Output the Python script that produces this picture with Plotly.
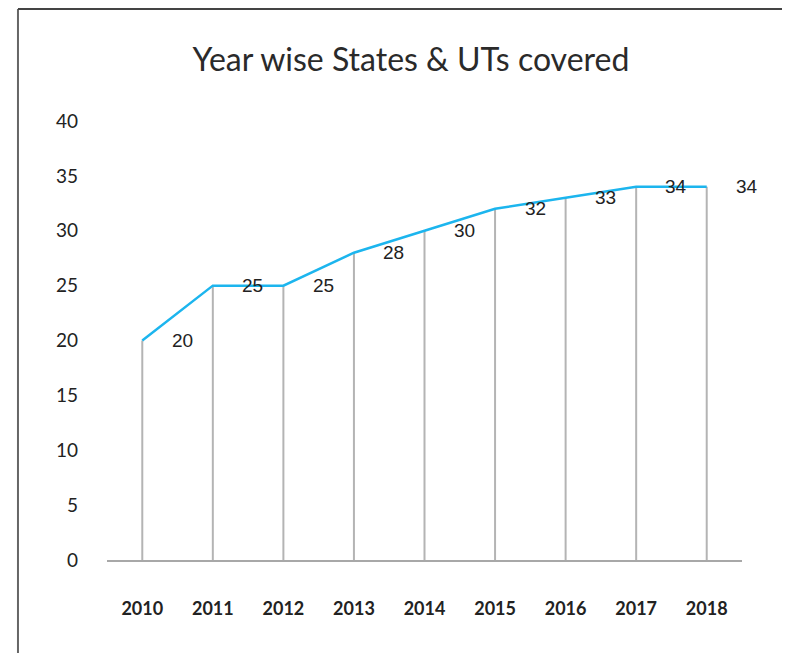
import plotly.graph_objects as go

years = [2010, 2011, 2012, 2013, 2014, 2015, 2016, 2017, 2018]
covered = [20, 25, 25, 28, 30, 32, 33, 34, 34]
y_ticks = [0, 5, 10, 15, 20, 25, 30, 35, 40]

# drop lines from the axis up to each point
drop_x, drop_y = [], []
for yr, v in zip(years, covered):
    drop_x += [yr, yr, None]
    drop_y += [0, v, None]

fig = go.Figure()
fig.add_trace(go.Scatter(
    x=drop_x, y=drop_y, mode="lines",
    line=dict(color="#b4b4b4", width=2),
    hoverinfo="skip", showlegend=False,
))
fig.add_trace(go.Scatter(
    x=years, y=covered, mode="lines",
    line=dict(color="#1cb5ee", width=2.5),
    showlegend=False,
))

for yr, v in zip(years, covered):
    fig.add_annotation(
        x=yr, y=v, text=str(v), showarrow=False, xshift=40,
        font=dict(family="Liberation Sans", size=19, color="#222"),
    )

# frame around the chart (left and top edges); page has an 8px body margin
fig.add_shape(type="line", xref="paper", yref="paper",
              x0=-0.1402, x1=-0.1402, y0=-0.23, y1=1.2551,
              line=dict(color="#666", width=2))
fig.add_shape(type="line", xref="paper", yref="paper",
              x0=-0.1402, x1=1.1, y0=1.2551, y1=1.2551,
              line=dict(color="#444", width=2))

fig.update_layout(
    width=790, height=653,
    margin=dict(l=99, r=56, t=113, b=101),
    paper_bgcolor="white", plot_bgcolor="white",
    title=dict(text="Year wise States & UTs covered", x=0.51, xanchor="center",
               y=0.920, yanchor="middle",
               font=dict(family="Lato", size=32, color="#2a2a2a")),
    font=dict(family="Lato"),
)
fig.update_xaxes(
    range=[2009.5, 2018.5], tickvals=years, ticktext=[str(y) for y in years],
    showgrid=False, showline=True, linecolor="#a8a8a8", linewidth=2, zeroline=False,
    ticks="", ticklabelstandoff=31,
    tickfont=dict(family="Lato", size=18, color="#222", weight="bold"),
)
fig.update_yaxes(
    range=[0, 40], tickvals=y_ticks, showgrid=False, showline=False, zeroline=False,
    ticks="", ticklabelstandoff=28,
    tickfont=dict(family="Lato", size=19, color="#222"),
)

fig.write_html("out.html")
